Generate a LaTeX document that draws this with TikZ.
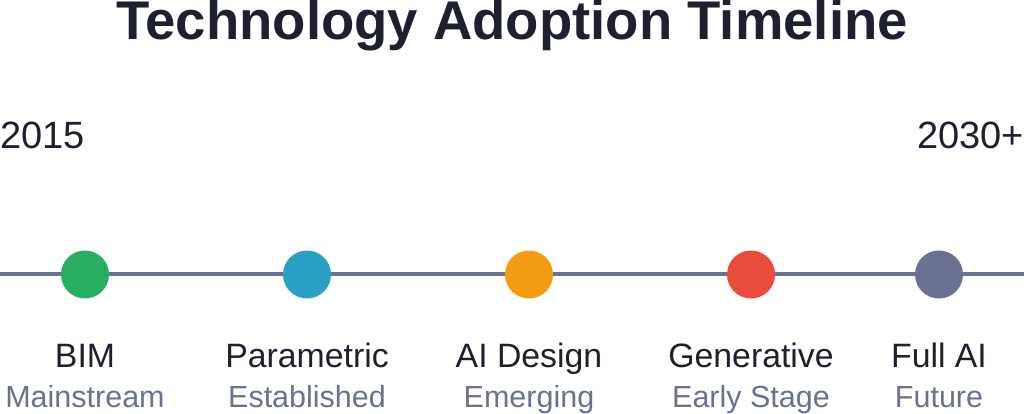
\documentclass[tikz,border=0pt]{standalone}
\usepackage{fontspec}
\setmainfont{Liberation Sans}
\usepackage{tikz}
\usetikzlibrary{positioning,calc}
\definecolor{inkdark}{HTML}{1E2030}
\definecolor{inkgray}{HTML}{6B7190}
\definecolor{bimgreen}{HTML}{27AE60}
\definecolor{parblue}{HTML}{2BA0C6}
\definecolor{aiorange}{HTML}{F39C12}
\definecolor{genred}{HTML}{E74C3C}
\definecolor{futgray}{HTML}{6B7190}
\tikzset{
	%title and year texts
	titletext/.style={
	       text=inkdark,
	       inner sep=0pt,
	       font=\fontsize{54.5}{64}\selectfont\bfseries},
	yeartext/.style={
	       text=inkdark,
	       inner sep=0pt,
	       font=\fontsize{38}{45}\selectfont},
	%the time axis
	axisline/.style={
	       draw=inkgray,
	       line width=3.5pt},
	%milestone dots
	milestone/.style={
	       circle,
	       inner sep=0pt,
	       minimum size=48pt},
	%texts below the dots
	techname/.style={
	       text=inkdark,
	       inner sep=0pt,
	       font=\fontsize{33.8}{40}\selectfont},
	stagename/.style={
	       text=inkgray,
	       inner sep=0pt,
	       font=\fontsize{30.5}{36}\selectfont}
}
\begin{document}
\begin{tikzpicture}[x=1pt, y=-1pt]
		\useasboundingbox (0,0) rectangle (1024,414);
		\node[titletext, anchor=base](title) at (512,40){Technology Adoption Timeline};
		\node[yeartext, anchor=base west](y_start) at (0,149){2015};
		\node[yeartext, anchor=base east](y_end) at (1024,149){2030+};
		% axis
		\coordinate (axis_start) at (0,274);
		\coordinate (axis_end) at (1024,274);
		\draw[axisline] (axis_start) -- (axis_end);
		% milestones
		\node[milestone, fill=bimgreen](bim) at (85,274.5){};
		\node[milestone, fill=parblue](parametric) at (307,274.5){};
		\node[milestone, fill=aiorange](ai_design) at (529,274.5){};
		\node[milestone, fill=genred](generative) at (751,274.5){};
		\node[milestone, fill=futgray](full_ai) at (939,274.5){};
		% names
		\node[techname, below=68.5pt of bim.south, anchor=base](bim_name){BIM};
		\node[techname, below=68.5pt of parametric.south, anchor=base](parametric_name){Parametric};
		\node[techname, below=68.5pt of ai_design.south, anchor=base](ai_design_name){AI Design};
		\node[techname, below=68.5pt of generative.south, anchor=base](generative_name){Generative};
		\node[techname, below=68.5pt of full_ai.south, anchor=base](full_ai_name){Full AI};
		% stages
		\node[stagename, below=40pt of bim_name.base, anchor=base](bim_stage){Mainstream};
		\node[stagename, below=40pt of parametric_name.base, anchor=base](parametric_stage){Established};
		\node[stagename, below=40pt of ai_design_name.base, anchor=base](ai_design_stage){Emerging};
		\node[stagename, below=40pt of generative_name.base, anchor=base](generative_stage){Early Stage};
		\node[stagename, below=40pt of full_ai_name.base, anchor=base](full_ai_stage){Future};
	\end{tikzpicture}
\end{document}
